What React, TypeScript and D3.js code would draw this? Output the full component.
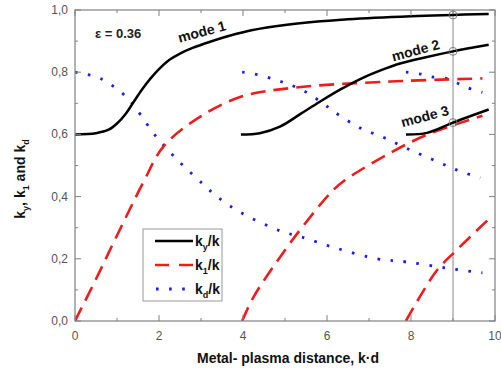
import * as d3 from "d3";

// ky/k branches (black solid)
const mode1X = [0, 0.5, 0.8, 1.0, 1.2, 1.4, 1.6, 1.8, 2.0, 2.25, 2.5, 2.8, 3.2, 3.7, 4.2, 5.0, 6.5, 8.0, 9.85];
const mode1Y = [0.6, 0.604, 0.615, 0.635, 0.665, 0.705, 0.745, 0.78, 0.81, 0.84, 0.86, 0.878, 0.897, 0.918, 0.935, 0.952, 0.97, 0.98, 0.987];
const mode2X = [3.95, 4.4, 4.88, 5.36, 5.83, 6.3, 6.79, 7.26, 7.74, 8.38, 9.0, 9.85];
const mode2Y = [0.6, 0.604, 0.625, 0.665, 0.705, 0.743, 0.778, 0.805, 0.828, 0.849, 0.867, 0.888];
const mode3X = [7.88, 8.38, 9.0, 9.85];
const mode3Y = [0.6, 0.605, 0.638, 0.68];

// k1/k branches (red dashed)
const k1aX = [0, 0.5, 1.0, 1.62, 2.1, 2.9, 3.93, 5.2, 7.5, 9.7];
const k1aY = [0, 0.135, 0.275, 0.444, 0.56, 0.65, 0.72, 0.75, 0.77, 0.78];
const k1bX = [3.98, 4.25, 4.96, 5.4, 6.07, 6.4, 7.5, 8.4, 9.7];
const k1bY = [0, 0.077, 0.22, 0.3, 0.41, 0.45, 0.54, 0.6, 0.66];
const k1cX = [7.88, 8.6, 9.1, 9.83];
const k1cY = [0, 0.16, 0.23, 0.325];

// kd/k branches (blue dotted)
const kdaX = [0, 0.6, 1.23, 1.47, 1.95, 2.5, 3.05, 3.38, 3.93, 4.88, 5.4, 6.2, 7.2, 7.9, 8.85, 9.7];
const kdaY = [0.8, 0.78, 0.72, 0.68, 0.59, 0.51, 0.44, 0.4, 0.35, 0.29, 0.27, 0.235, 0.2, 0.19, 0.17, 0.155];
const kdbX = [3.98, 4.25, 4.9, 5.45, 5.9, 6.2, 6.8, 7.35, 7.9, 8.5, 9.1, 9.65];
const kdbY = [0.8, 0.795, 0.77, 0.74, 0.7, 0.67, 0.62, 0.59, 0.555, 0.52, 0.485, 0.46];
const kdcX = [7.88, 8.2, 8.5, 8.85, 9.1, 9.35, 9.7];
const kdcY = [0.8, 0.795, 0.785, 0.78, 0.765, 0.75, 0.735];

// marker line at k·d = 9
const markerX = 9;
const markerY = [0.984, 0.867, 0.638];

const xMajor = [0, 2, 4, 6, 8, 10];
const xMinor = [1, 3, 5, 7, 9];
const yMajor = [0, 0.2, 0.4, 0.6, 0.8, 1.0];
const yMinor = [0.1, 0.3, 0.5, 0.7, 0.9];

const modeLabels = [
  { text: "mode 1", x: 3.05, y: 0.915 },
  { text: "mode 2", x: 8.14, y: 0.855 },
  { text: "mode 3", x: 8.36, y: 0.643 },
];

const W = 501;
const H = 373;
const left = 75, right = 495, top = 10, bottom = 321;

const zip = (xs: number[], ys: number[]) => xs.map((x, i) => [x, ys[i]] as [number, number]);

export default function App() {
  const x = d3.scaleLinear().domain([0, 10]).range([left, right]);
  const y = d3.scaleLinear().domain([0, 1]).range([bottom, top]);
  const line = d3
    .line<[number, number]>()
    .x(d => x(d[0]))
    .y(d => y(d[1]))
    .curve(d3.curveCatmullRom.alpha(0.5));

  const solid = [zip(mode1X, mode1Y), zip(mode2X, mode2Y), zip(mode3X, mode3Y)];
  const dashed = [zip(k1aX, k1aY), zip(k1bX, k1bY), zip(k1cX, k1cY)];
  const dotted = [zip(kdaX, kdaY), zip(kdbX, kdbY), zip(kdcX, kdcY)];

  const fmt = (v: number) => v.toFixed(1).replace(".", ",");
  const axisColor = "#808080";
  const tickFont = { fontFamily: "Liberation Sans, Arial, sans-serif", fontSize: 12, fill: "#555" };

  return (
    <svg width={W} height={H} style={{ position: "absolute", left: 0, top: 0 }}>
      <rect width={W} height={H} fill="#fff" />
      <defs>
        <clipPath id="plot">
          <rect x={left} y={top} width={right - left} height={bottom - top} />
        </clipPath>
      </defs>

      {/* marker line */}
      <line x1={x(markerX)} x2={x(markerX)} y1={top} y2={bottom} stroke="#888" strokeWidth={1} />

      <g clipPath="url(#plot)" fill="none">
        {dotted.map((d, i) => (
          <path key={"d" + i} d={line(d) ?? ""} stroke="#1c1cf0" strokeWidth={2.8} strokeDasharray="2.6 10.5" />
        ))}
        {dashed.map((d, i) => (
          <path key={"r" + i} d={line(d) ?? ""} stroke="#ee1c1c" strokeWidth={2.6} strokeDasharray="15 8" />
        ))}
        {solid.map((d, i) => (
          <path key={"s" + i} d={line(d) ?? ""} stroke="#000" strokeWidth={2.5} />
        ))}
      </g>

      {markerY.map((v, i) => (
        <circle key={"c" + i} cx={x(markerX)} cy={y(v)} r={4} fill="none" stroke="#777" strokeWidth={0.9} />
      ))}

      {/* frame */}
      <rect x={left} y={top} width={right - left} height={bottom - top} fill="none" stroke={axisColor} strokeWidth={1.2} />

      {/* ticks */}
      {xMajor.map(v => (
        <g key={"xm" + v}>
          <line x1={x(v)} x2={x(v)} y1={bottom} y2={bottom - 6} stroke={axisColor} />
          <line x1={x(v)} x2={x(v)} y1={top} y2={top + 6} stroke={axisColor} />
          <text x={x(v)} y={bottom + 19} textAnchor="middle" {...tickFont}>{v}</text>
        </g>
      ))}
      {xMinor.map(v => (
        <g key={"xn" + v}>
          <line x1={x(v)} x2={x(v)} y1={bottom} y2={bottom - 3} stroke={axisColor} />
          <line x1={x(v)} x2={x(v)} y1={top} y2={top + 3} stroke={axisColor} />
        </g>
      ))}
      {yMajor.map(v => (
        <g key={"ym" + v}>
          <line x1={left} x2={left + 6} y1={y(v)} y2={y(v)} stroke={axisColor} />
          <line x1={right} x2={right - 6} y1={y(v)} y2={y(v)} stroke={axisColor} />
          <text x={left - 7} y={y(v) + 4} textAnchor="end" {...tickFont}>{fmt(v)}</text>
        </g>
      ))}
      {yMinor.map(v => (
        <g key={"yn" + v}>
          <line x1={left} x2={left + 3} y1={y(v)} y2={y(v)} stroke={axisColor} />
          <line x1={right} x2={right - 3} y1={y(v)} y2={y(v)} stroke={axisColor} />
        </g>
      ))}

      {/* annotations */}
      <text x={95} y={38} fontFamily="Liberation Sans, Arial, sans-serif" fontWeight="bold" fontSize={13} fill="#222">
        ε = 0.36
      </text>
      {modeLabels.map(m => (
        <text
          key={m.text}
          transform={`translate(${x(m.x)},${y(m.y)}) rotate(-15)`}
          textAnchor="middle"
          fontFamily="Liberation Sans, Arial, sans-serif"
          fontWeight="bold"
          fontSize={14}
          fill="#111"
        >
          {m.text}
        </text>
      ))}

      {/* legend */}
      <g fontFamily="Liberation Sans, Arial, sans-serif" fontWeight="bold" fontSize={14} fill="#111">
        <rect x={143} y={229} width={79} height={72} fill="#fff" stroke="#999" strokeWidth={1} />
        <line x1={155} x2={193} y1={241} y2={241} stroke="#000" strokeWidth={2.5} />
        <line x1={155} x2={193} y1={265} y2={265} stroke="#ee1c1c" strokeWidth={2.6} strokeDasharray="14 10" />
        <line x1={156} x2={193} y1={289} y2={289} stroke="#1c1cf0" strokeWidth={2.8} strokeDasharray="2.6 10.5" />
        <text x={195} y={246}>k<tspan fontSize={9} dy={4}>y</tspan><tspan dy={-4}>/k</tspan></text>
        <text x={195} y={270}>k<tspan fontSize={9} dy={4}>1</tspan><tspan dy={-4}>/k</tspan></text>
        <text x={195} y={294}>k<tspan fontSize={9} dy={4}>d</tspan><tspan dy={-4}>/k</tspan></text>
      </g>

      {/* axis titles */}
      <text
        x={288}
        y={363}
        textAnchor="middle"
        fontFamily="Liberation Sans, Arial, sans-serif"
        fontWeight="bold"
        fontSize={14}
        fill="#111"
      >
        Metal- plasma distance, k·d
      </text>
      <text
        transform={`translate(25,179) rotate(-90)`}
        textAnchor="middle"
        fontFamily="Liberation Sans, Arial, sans-serif"
        fontWeight="bold"
        fontSize={14}
        fill="#111"
      >
        k<tspan fontSize={9} dy={4}>y</tspan><tspan dy={-4}>, k</tspan><tspan fontSize={9} dy={4}>1</tspan><tspan dy={-4}> and k</tspan><tspan fontSize={9} dy={4}>d</tspan>
      </text>
    </svg>
  );
}
